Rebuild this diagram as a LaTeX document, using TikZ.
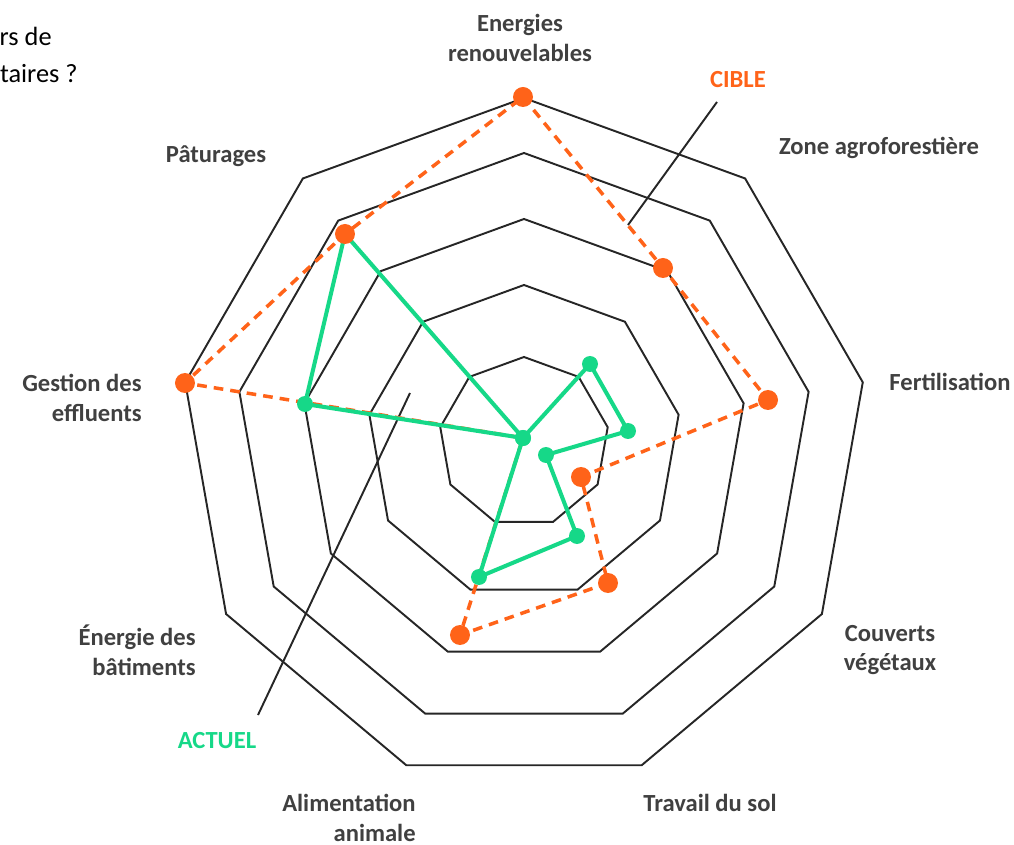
\documentclass[tikz,border=0pt]{standalone}
\usepackage{fontspec}
\setmainfont{Carlito}
\definecolor{cible}{RGB}{255,99,25}
\definecolor{actuel}{RGB}{22,216,136}
\definecolor{txt}{RGB}{64,64,64}
\definecolor{grid}{RGB}{38,38,38}

\begin{document}
\begin{tikzpicture}[x=0.02cm, y=0.02cm,
  lab/.style={font=\fontsize{14}{17}\selectfont\bfseries, text=txt, inner sep=0pt},
  ring/.style={line width=1.1pt, draw=grid},
  callout/.style={line width=1.1pt, draw=grid},
  cibleline/.style={line width=2pt, draw=cible, dash pattern=on 5.5pt off 4pt},
  actuelline/.style={line width=2.3pt, draw=actuel, line join=round}]

\useasboundingbox (-524,-403) rectangle (490,442);

% Grille
\foreach \r in {85,157,223,289,344}
  \draw[ring] (90:\r) \foreach \a in {1,...,8}{ -- (90+40*\a:\r)} -- cycle;

% Texte coupe
\node[anchor=base east, inner sep=0pt, font=\fontsize{15}{21}\selectfont] (titre1) at (-472,396) {rs de};
\node[anchor=base east, inner sep=0pt, font=\fontsize{15}{21}\selectfont] (titre2) at (-446,359) {taires ?};

% Axes
\node[lab, align=center] (ener) at (-4,404) {Energies\\renouvelables};
\node[lab] (zone) at (355,294) {Zone agroforestière};
\node[lab] (fert) at (426,60) {Fertilisation};
\node[lab, align=center] (couv) at (366,-208) {Couverts\\végétaux};
\node[lab] (trav) at (186,-361) {Travail du sol};
\node[lab, align=right, anchor=east] (alim) at (-108,-376) {Alimentation\\animale};
\node[lab, align=right, anchor=east] (bati) at (-328,-208) {Énergie des\\bâtiments};
\node[lab, align=right, anchor=east] (effl) at (-382,44) {Gestion des\\effluents};
\node[lab] (patu) at (-308,286) {Pâturages};

% Cible
\coordinate (c-er) at (-1,345);
\coordinate (c-za) at (139,174);
\coordinate (c-fe) at (244,42);
\coordinate (c-cv) at (57,-35);
\coordinate (c-ts) at (84,-141);
\coordinate (c-aa) at (-64,-193);
\coordinate (c-eb) at (-1,4);
\coordinate (c-ge) at (-339,59);
\coordinate (c-pa) at (-179,208);

% Actuel
\coordinate (a-er) at (-1,4);
\coordinate (a-za) at (66,78);
\coordinate (a-fe) at (104,11);
\coordinate (a-cv) at (22,-13);
\coordinate (a-ts) at (53,-94);
\coordinate (a-aa) at (-45,-135);
\coordinate (a-eb) at (-1,4);
\coordinate (a-ge) at (-219,38);
\coordinate (a-pa) at (-179,208);

% Legendes
\node[lab, text=cible] (cible) at (214,362) {CIBLE};
\coordinate (cible-a) at (193,340);
\coordinate (cible-b) at (104,217);
\draw[callout] (cible-a) -- (cible-b);
\node[lab, text=actuel] (actuel) at (-307,-299) {ACTUEL};
\coordinate (actuel-a) at (-266,-273);
\coordinate (actuel-b) at (-114,49);
\draw[callout] (actuel-a) -- (actuel-b);

% Courbes
\draw[cibleline] (c-er) -- (c-za) -- (c-fe) -- (c-cv) -- (c-ts) -- (c-aa)
  -- (c-eb) -- (c-ge) -- (c-pa) -- cycle;
\draw[actuelline] (a-er) -- (a-za) -- (a-fe) -- (a-cv) -- (a-ts) -- (a-aa)
  -- (a-eb) -- (a-ge) -- (a-pa) -- cycle;

\foreach \p in {er,za,fe,cv,ts,aa,ge,pa}
  \fill[actuel] (a-\p) circle (8);
\foreach \p in {er,za,fe,cv,ts,aa,ge,pa}
  \fill[cible] (c-\p) circle (10);
\fill[actuel] (a-er) circle (8);

\end{tikzpicture}
\end{document}
